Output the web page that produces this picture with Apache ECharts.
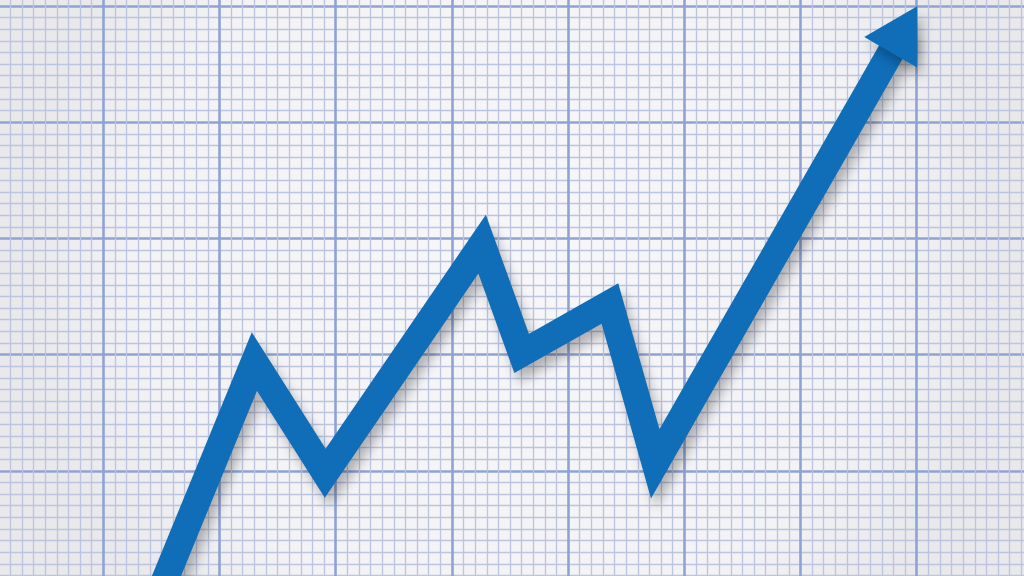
<!DOCTYPE html>
<html>
<head>
<meta charset="utf-8">
<style>
  html, body { margin: 0; padding: 0; background: #f3f3f5; }
  #chart { width: 1024px; height: 576px; }
</style>
<script src="https://cdn.jsdelivr.net/npm/echarts@6/dist/echarts.min.js"></script>
</head>
<body>
<div id="chart"></div>
<script>
// Data (x, y in graph-paper squares)
const xValues = [13.9, 23.0, 29.1, 42.6, 46.0, 53.6, 57.5, 78.9];
const yValues = [7.2, 29.4, 19.8, 39.5, 30.1, 34.4, 20.6, 58.0];

const lineColor = '#106eb9';
const minorColor = '#bcc4df';
const majorColor = '#8fa3d3';

const data = xValues.map((x, i) => {
  const item = { value: [x, yValues[i]] };
  if (i === xValues.length - 1) {
    item.symbol = 'triangle';
    item.symbolSize = [61, 53];
    item.symbolRotate = -30;
  }
  return item;
});

const axisCommon = {
  type: 'value',
  interval: 10,
  axisLine: { show: false },
  axisTick: { show: false },
  axisLabel: { show: false },
  splitLine: { show: true, lineStyle: { color: majorColor, width: 2.6 } },
  minorTick: { show: false, splitNumber: 10 },
  minorSplitLine: { show: true, lineStyle: { color: minorColor, width: 1.3 } }
};

const chart = echarts.init(document.getElementById('chart'), null, { renderer: 'canvas' });
chart.setOption({
  animation: false,
  backgroundColor: {
    type: 'radial', x: 0.5, y: 0.45, r: 0.85,
    colorStops: [
      { offset: 0, color: '#f7f7f9' },
      { offset: 0.75, color: '#f3f3f5' },
      { offset: 1, color: '#e9e9ec' }
    ]
  },
  grid: {
    left: -12.9, top: -110.2, width: 1162, height: 813.4,
    outerBoundsMode: 'none', containLabel: false
  },
  xAxis: Object.assign({}, axisCommon, { min: 0, max: 100 }),
  yAxis: Object.assign({}, axisCommon, { min: 0, max: 70 }),
  series: [{
    type: 'line',
    data: data,
    symbol: 'none',
    showSymbol: true,
    clip: false,
    lineStyle: {
      color: lineColor, width: 27, join: 'miter', miterLimit: 10, cap: 'butt',
      shadowColor: 'rgba(0,0,0,0.28)', shadowBlur: 12, shadowOffsetX: 5, shadowOffsetY: 9
    },
    itemStyle: {
      color: lineColor, opacity: 1,
      shadowColor: 'rgba(0,0,0,0.28)', shadowBlur: 12, shadowOffsetX: 5, shadowOffsetY: 9
    },
    emphasis: { disabled: true }
  }]
});
</script>
</body>
</html>
